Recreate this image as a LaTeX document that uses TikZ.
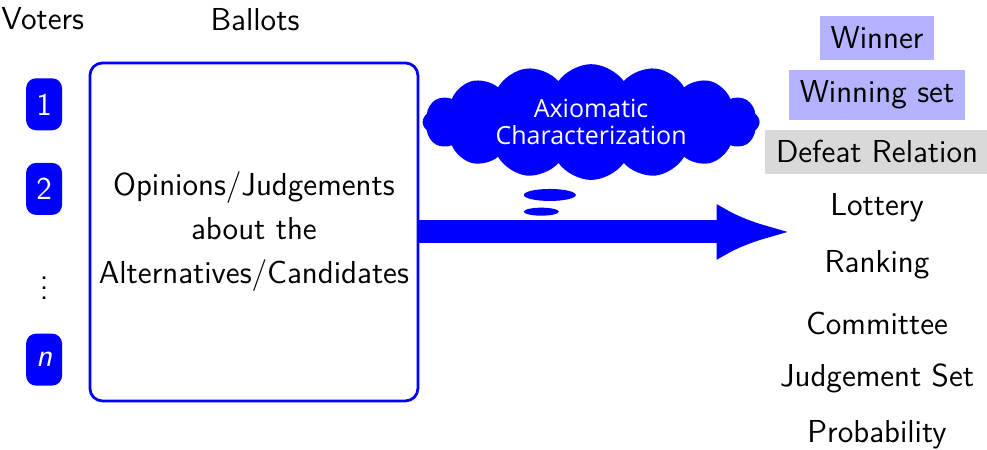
\documentclass[tikz,border=0pt]{standalone}
\usepackage{fontspec}
\newfontfamily\cloudfont{Open Sans}
\usepackage{tikz}
\usetikzlibrary{arrows.meta, shapes, positioning}
\definecolor{voterblue}{rgb}{0, 0, 1}
\definecolor{winnerblue}{RGB}{179, 179, 255}
\definecolor{defeatgray}{RGB}{217, 217, 217}

\begin{document}
\begin{tikzpicture}[line join=round, >=Latex,
	font=\fontsize{12.7}{15.3}\selectfont\sffamily,
	voter/.style={fill=voterblue, text=white, rounded corners=4pt, minimum width=14.4pt, minimum height=20.8pt, inner sep=0pt},
	bubble/.style={ellipse, fill=voterblue, inner sep=0pt},
	outcome/.style={inner sep=4.4pt}]

		% frame of the picture
		\useasboundingbox (0,0) rectangle (13.876,6.326);

		% headers
		\node (voters) at (0.60,6.07) {Voters};
		\node (ballots) at (3.585,6.05) {Ballots};

		% voters
		\node [voter] (v1) at (0.62,4.86) {1};
		\node [voter] (v2) at (0.62,3.67) {2};
		\node (vdots) at (0.62,2.38) {$\vdots$};
		\node [voter] (vn) at (0.62,1.27) {\textit{n}};

		% ballots
		\node [draw=voterblue, line width=1.1pt, rounded corners=5pt, minimum width=131.2pt, minimum height=135.2pt, align=center] (ballot) at (3.57,3.065)
			{Opinions/Judgements\\[2.3pt]about the\\[2.3pt]Alternatives/Candidates};

		% aggregation arrow
		\coordinate (tip) at (11.13,3.065);
		\draw [-{Latex[length=30pt,width=22.4pt]},voterblue,line width=9.2pt] (ballot.east)--(tip);

		% thought cloud
		\node [cloud, cloud puffs=16, cloud puff arc=110, aspect=3, fill=voterblue, text=white, inner sep=0pt, minimum width=134.8pt, minimum height=46pt, align=center, font=\cloudfont\fontsize{10}{11}\selectfont] (cloud) at (8.31,4.61)
			{Axiomatic\\Characterization};
		\node [bubble, minimum width=20.8pt, minimum height=4.8pt] (bubble1) at (7.73,3.585) {};
		\node [bubble, minimum width=14pt, minimum height=3.2pt] (bubble2) at (7.61,3.35) {};

		% outcomes
		\node [outcome, fill=winnerblue] (winner) at (12.33,5.79) {Winner};
		\node [outcome, fill=winnerblue] (winset) at (12.33,4.99) {Winning set};
		\node [outcome, fill=defeatgray] (defeat) at (12.33,4.19) {Defeat Relation};
		\node [outcome] (lottery) at (12.33,3.40) {Lottery};
		\node [outcome] (ranking) at (12.33,2.60) {Ranking};
		\node [outcome] (committee) at (12.33,1.785) {Committee};
		\node [outcome] (judgement) at (12.33,1.01) {Judgement Set};
		\node [outcome] (probability) at (12.33,0.21) {Probability};
    \end{tikzpicture}
\end{document}
